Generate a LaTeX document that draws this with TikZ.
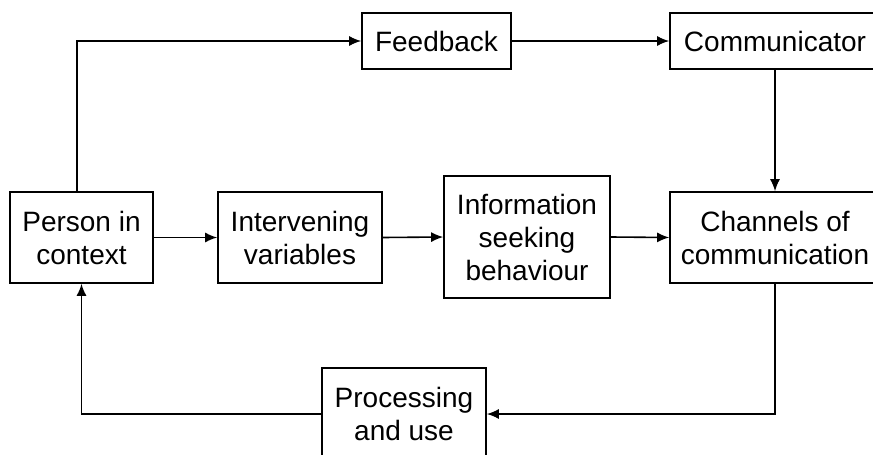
\documentclass[tikz,border=0pt]{standalone}
\usepackage{fontspec}
\setmainfont{Liberation Sans}
\usetikzlibrary{arrows.meta}

\begin{document}
\begin{tikzpicture}[x=1pt, y=-1pt,
    box/.style = {draw, line width=1.6pt, inner sep=0pt, align=center,
                  font=\fontsize{28pt}{33pt}\selectfont},
    arr/.style = {line width=1.6pt, -{Latex[length=12pt,width=10pt]}}]
        \clip (0,0) rectangle (873,455);
        \node[box, minimum width=143pt, minimum height=91pt] (person) at (81.5,237.5) {Person in\\context};
        \node[box, minimum width=164pt, minimum height=91pt] (inter) at (300,237.5) {Intervening\\variables};
        \node[box, minimum width=166pt, minimum height=122pt] (info) at (527,237) {Information\\seeking\\behaviour};
        \node[box, minimum width=210pt, minimum height=91pt] (chan) at (775,237.5) {Channels of\\communication};
        \node[box, minimum width=149pt, minimum height=56pt] (feed) at (436.5,41) {Feedback};
        \node[box, minimum width=210pt, minimum height=56pt] (comm) at (775,41) {Communicator};
        \node[box, minimum width=164pt, minimum height=92pt] (proc) at (404,414) {Processing\\and use};
        \draw[arr] ([xshift=-4.5pt]person.north) |- (feed.west);
        \draw[arr] (feed.east) -- (comm.west);
        \draw[arr] (comm.south) -- (chan.north);
        \draw[arr] (person.east) -- (inter.west);
        \draw[arr] (inter.east) -- (info.west);
        \draw[arr] (info.east) -- (chan.west);
        \draw[arr] (chan.south) |- (proc.east);
        \draw[arr] (proc.west) -| (person.south);
\end{tikzpicture}
\end{document}
